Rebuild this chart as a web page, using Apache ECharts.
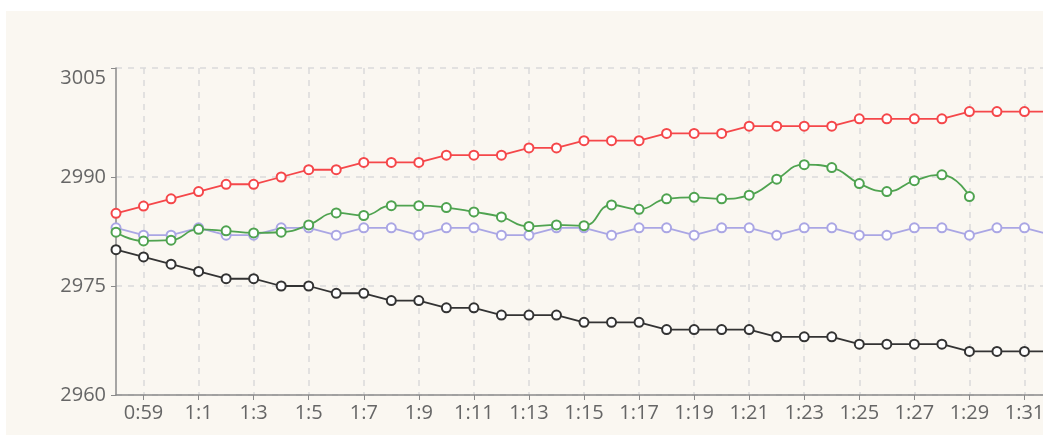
<!DOCTYPE html>
<html>
<head>
<meta charset="utf-8">
<script src="https://cdn.jsdelivr.net/npm/echarts@6/dist/echarts.min.js"></script>
<style>
  html, body { margin: 0; padding: 0; background: #ffffff; overflow: hidden; }
  #chart { position: absolute; left: 6px; top: 11px; width: 1080px; height: 424px; background: #faf7f1; }
</style>
</head>
<body>
<div id="chart"></div>
<script>
// Minute-by-minute readings
const times = ['0:58','0:59','1:0','1:1','1:2','1:3','1:4','1:5','1:6','1:7','1:8','1:9','1:10','1:11','1:12','1:13','1:14','1:15','1:16','1:17','1:18','1:19','1:20','1:21','1:22','1:23','1:24','1:25','1:26','1:27','1:28','1:29','1:30','1:31','1:32'];

const upperBand = [2985,2986,2987,2988,2989,2989,2990,2991,2991,2992,2992,2992,2993,2993,2993,2994,2994,2995,2995,2995,2996,2996,2996,2997,2997,2997,2997,2998,2998,2998,2998,2999,2999,2999,2999];

const midBand = [2983,2982,2982,2983,2982,2982,2983,2983,2982,2983,2983,2982,2983,2983,2982,2982,2983,2983,2982,2983,2983,2982,2983,2983,2982,2983,2983,2982,2982,2983,2983,2982,2983,2983,2982];

const lowerBand = [2980,2979,2978,2977,2976,2976,2975,2975,2974,2974,2973,2973,2972,2972,2971,2971,2971,2970,2970,2970,2969,2969,2969,2969,2968,2968,2968,2967,2967,2967,2967,2966,2966,2966,2966];

const price = [2982.4,2981.2,2981.3,2982.8,2982.6,2982.3,2982.4,2983.4,2985.05,2984.7,2986.05,2986.05,2985.8,2985.2,2984.5,2983.2,2983.4,2983.3,2986.15,2985.55,2987.0,2987.2,2987.0,2987.5,2989.7,2991.7,2991.3,2989.1,2988.0,2989.5,2990.3,2987.3,null,null,null];

const yTicks = { min: 2960, max: 3005, step: 15 };

const oddIndex = (i) => i % 2 === 1;
const textColor = '#666666';
const axisColor = '#8a8a8a';
const gridColor = '#dadada';
const font = '"Open Sans", "Noto Sans", sans-serif';

const chart = echarts.init(document.getElementById('chart'));

function lineSeries(name, data, color, extra) {
  return Object.assign({
    name: name,
    type: 'line',
    data: data,
    symbol: 'emptyCircle',
    symbolSize: 9,
    showAllSymbol: true,
    lineStyle: { color: color, width: 1.8 },
    itemStyle: { color: color, borderWidth: 1.8 },
    animation: false
  }, extra || {});
}

chart.setOption({
  backgroundColor: 'transparent',
  grid: { left: 110, right: 34, top: 57, bottom: 40, containLabel: false },
  xAxis: {
    type: 'category',
    data: times,
    boundaryGap: false,
    axisLine: { lineStyle: { color: axisColor, width: 1.5 } },
    axisTick: { interval: oddIndex, length: 5, lineStyle: { color: axisColor } },
    axisLabel: { interval: oddIndex, color: textColor, fontSize: 20, fontFamily: font, margin: 8 },
    splitLine: { show: true, interval: oddIndex, lineStyle: { color: gridColor, type: [6, 6], width: 1.5 } }
  },
  yAxis: {
    type: 'value',
    min: yTicks.min,
    max: yTicks.max,
    interval: yTicks.step,
    axisLine: { show: true, lineStyle: { color: axisColor, width: 1.5 } },
    axisTick: { show: true, length: 5, lineStyle: { color: axisColor } },
    axisLabel: {
      color: textColor, fontSize: 20, fontFamily: font, margin: 10,
      formatter: (v) => String(v),
      verticalAlignMaxLabel: 'top'
    },
    splitLine: { show: true, lineStyle: { color: gridColor, type: [6, 6], width: 1.5 } }
  },
  series: [
    lineSeries('upper', upperBand, '#f5474a'),
    lineSeries('mid', midBand, '#aaa6e4'),
    lineSeries('lower', lowerBand, '#333333'),
    lineSeries('price', price, '#4fa350', { smooth: true, connectNulls: false })
  ]
});
</script>
</body>
</html>
